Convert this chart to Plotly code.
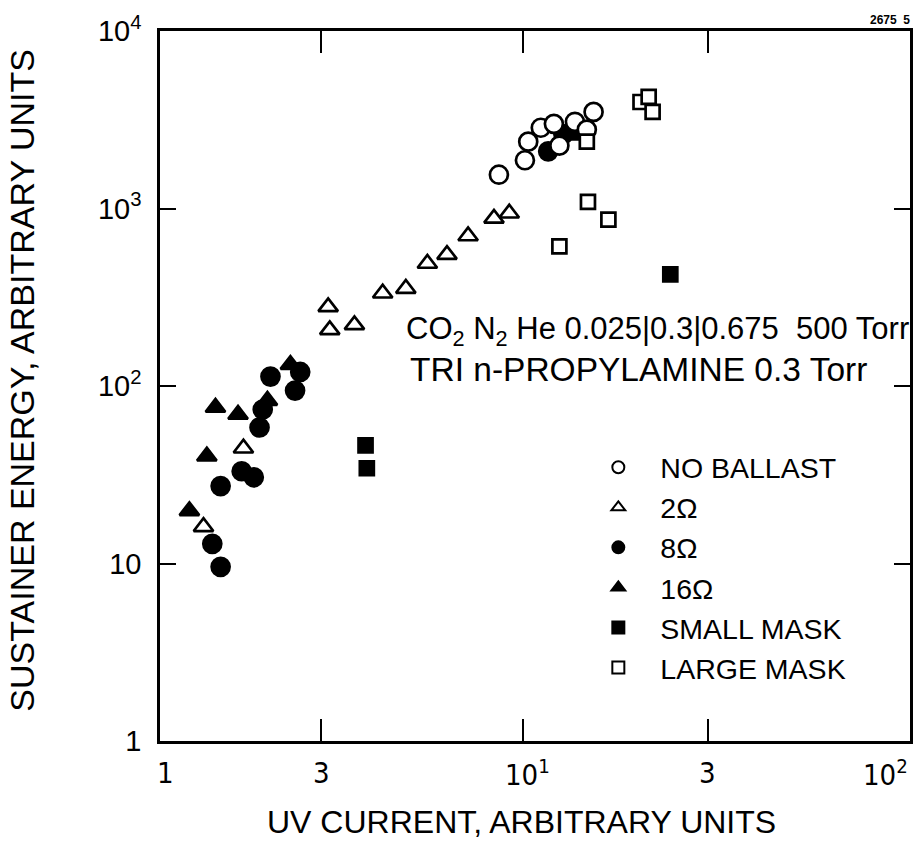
import math
import plotly.graph_objects as go

# ---- data ----
no_ballast_x = [8.65, 10.1, 10.3, 11.1, 12.0, 12.4, 13.6, 14.6, 15.2]
no_ballast_y = [1550, 1870, 2380, 2850, 3000, 2260, 3080, 2780, 3500]

ohm2_x = [9.2, 8.4, 7.2, 6.35, 5.65, 4.97, 4.33, 3.66, 3.16, 3.13, 1.89, 1.49]
ohm2_y = [940, 880, 700, 550, 490, 354, 333, 221, 207, 279, 44.6, 16.1]

ohm8_x = [11.6, 12.7, 2.22, 2.65, 2.57, 2.12, 2.08, 1.87, 2.01, 1.65, 1.57, 1.65]
ohm8_y = [2100, 2620, 113, 120, 94.2, 73.7, 58.4, 33.1, 30.6, 27.3, 12.9, 9.58]

ohm16_x = [2.50, 2.18, 1.60, 1.83, 1.52, 1.37]
ohm16_y = [132, 82.8, 75.7, 69.1, 40.2, 19.8]

small_mask_x = [3.91, 3.94, 24.0, 13.4]
small_mask_y = [46.3, 34.4, 425, 2680]

large_mask_x = [14.6, 14.7, 16.6, 12.4, 20.1, 21.1, 21.6]
large_mask_y = [2380, 1090, 865, 612, 3980, 4250, 3500]

x_min, x_max = 1.15, 100
x_tick_vals = [1, 3, 10, 30, 100]
x_tick_text = ["1", "3", "10<sup>1</sup>", "3", "10<sup>2</sup>"]
y_tick_vals = [1, 10, 100, 1000, 10000]
y_tick_text = ["1", "10", "10<sup>2</sup>", "10<sup>3</sup>", "10<sup>4</sup>"]

NARROW = "Liberation Sans Narrow, DejaVu Sans Condensed, Arial Narrow, sans-serif"
SANS = "Liberation Sans, Arial, Helvetica, sans-serif"

fig = go.Figure()

def add(name, xs, ys, symbol, size, fill, rank):
    fig.add_trace(go.Scatter(
        x=xs, y=ys, mode="markers", name=name, legendrank=rank,
        marker=dict(symbol=symbol, size=size, color=fill,
                    line=dict(color="black", width=2.7)),
    ))

# filled symbols first, open (white-filled) symbols drawn on top
add("8\u03a9", ohm8_x, ohm8_y, "circle", 18, "black", 3)
add("16\u03a9", ohm16_x, ohm16_y, "triangle-up", 17, "black", 4)
add("SMALL MASK", small_mask_x, small_mask_y, "square", 14, "black", 5)
add("2\u03a9", ohm2_x, ohm2_y, "triangle-up", 17, "white", 2)
add("NO BALLAST", no_ballast_x, no_ballast_y, "circle", 18, "white", 1)
add("LARGE MASK", large_mask_x, large_mask_y, "square", 14, "white", 6)

L, R, T, B = 160, 913, 21, 741
W, H = 924, 846

def px_x(p):
    return (p - L) / (R - L)

def px_y(p):
    return (B - p) / (B - T)

annotations = []
# x tick labels
for v, t in zip(x_tick_vals, x_tick_text):
    if v < x_min:
        annotations.append(dict(x=0, xref="paper", y=0, yref="paper", text=t,
                                showarrow=False, xanchor="center", yanchor="middle",
                                xshift=5, yshift=-32,
                                font=dict(family=NARROW, size=29, color="black")))
        continue
    anchor = "center"
    shift = 0
    if v == x_tick_vals[-1]:
        anchor = "right"
    elif "sup" in t:
        shift = 4
    annotations.append(dict(x=math.log10(v), xref="x", y=0, yref="paper", text=t,
                            showarrow=False, xanchor=anchor, yanchor="middle",
                            xshift=shift, yshift=-32,
                            font=dict(family=NARROW, size=29, color="black")))

annotations += [
    dict(x=px_x(22), y=px_y(375), xref="paper", yref="paper",
         text="SUSTAINER ENERGY, ARBITRARY UNITS", textangle=-90,
         showarrow=False, xanchor="center", yanchor="middle",
         font=dict(family=SANS, size=34, color="black")),
    dict(x=px_x(523), y=0, xref="paper", yref="paper",
         text="UV CURRENT, ARBITRARY UNITS", showarrow=False,
         xanchor="center", yanchor="middle", yshift=-(822 - B),
         font=dict(family=SANS, size=32, color="black")),
    dict(x=px_x(405), y=px_y(325), xref="paper", yref="paper",
         text="CO<sub>2</sub> N<sub>2</sub> He 0.025|0.3|0.675  500 Torr",
         showarrow=False, xanchor="left", yanchor="middle",
         font=dict(family=SANS, size=31, color="black")),
    dict(x=px_x(409), y=px_y(364), xref="paper", yref="paper",
         text="TRI n-PROPYLAMINE 0.3 Torr",
         showarrow=False, xanchor="left", yanchor="middle",
         font=dict(family=SANS, size=33.5, color="black")),
    dict(x=px_x(915), y=px_y(10), xref="paper", yref="paper",
         text="<b>2675  5</b>", showarrow=False, xanchor="right", yanchor="middle",
         font=dict(family=SANS, size=12, color="black")),
]

fig.update_layout(
    width=W, height=H,
    margin=dict(l=L, r=W - R, t=T, b=H - B, pad=0),
    paper_bgcolor="white", plot_bgcolor="white",
    showlegend=True,
    legend=dict(x=px_x(578), y=px_y(438), xanchor="left", yanchor="top",
                bgcolor="rgba(0,0,0,0)", borderwidth=0,
                font=dict(family=SANS, size=28.5, color="black"),
                itemsizing="constant", itemwidth=74, traceorder="normal"),
    annotations=annotations,
)

fig.update_xaxes(type="log", range=[math.log10(x_min), math.log10(x_max)],
                 showgrid=False, zeroline=False,
                 showline=True, linecolor="black", linewidth=2.5, mirror="ticks",
                 ticks="inside", ticklen=22, tickwidth=1.5, tickcolor="black",
                 tickvals=x_tick_vals, showticklabels=False)
fig.update_yaxes(type="log", range=[0, 4], showgrid=False, zeroline=False,
                 showline=True, linecolor="black", linewidth=2.5, mirror="ticks",
                 ticks="inside", ticklen=16, tickwidth=1.5, tickcolor="black",
                 tickvals=y_tick_vals, ticktext=y_tick_text,
                 ticklabelstandoff=10, ticklabeloverflow="allow",
                 tickfont=dict(family=SANS, size=29, color="black"))

fig.write_html("out.html", config={"displayModeBar": False},
               post_script="document.body.style.margin='0';"
                           "document.documentElement.style.overflow='hidden';")
